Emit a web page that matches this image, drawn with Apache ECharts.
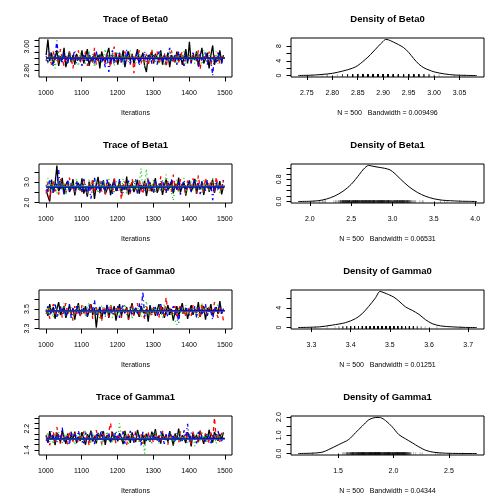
<!DOCTYPE html>
<html><head><meta charset="utf-8">
<script src="https://cdn.jsdelivr.net/npm/echarts@6/dist/echarts.min.js"></script>
<style>html,body{margin:0;padding:0;background:#fff}#c{width:504px;height:504px}</style>
</head><body><div id="c"></div>
<script>
// ---------- DATA ----------
const parameterNames = ['Beta0', 'Beta1', 'Gamma0', 'Gamma1'];
const bandwidths = ['0.009496', '0.06531', '0.01251', '0.04344'];
const sampleSize = 500;

// iterations sampled every 5 steps (1001..1496)
const iterations = [];
for (let i = 0; i < 100; i++) iterations.push(1001 + 5 * i);
const smoothIterations = [1001, 1250, 1500];

// trace values, chains 1..4 (black, red, green, blue)
const traceBeta0 = [
[2.93,3.06,2.88,2.95,2.86,2.91,2.97,2.84,2.92,2.89,2.99,2.83,2.90,2.96,2.87,2.93,2.85,2.94,2.90,2.88,
 2.97,2.86,2.92,2.98,2.84,2.91,2.87,2.95,2.89,2.93,2.82,2.96,2.90,2.87,2.94,2.99,2.86,2.92,2.88,2.95,
 2.85,2.93,2.89,2.97,2.83,2.91,2.96,2.88,2.94,2.86,2.92,2.98,2.87,2.90,2.95,2.84,2.79,2.93,2.89,2.96,
 2.86,2.94,2.91,2.88,2.97,2.85,2.92,2.89,2.95,2.83,2.93,2.90,2.87,2.96,2.88,2.94,2.85,2.91,2.98,2.86,
 3.04,2.87,2.93,2.89,2.96,2.84,2.92,2.99,2.86,2.90,2.95,2.82,2.93,3.01,2.85,2.91,2.88,2.97,2.87,2.93],
[2.88,2.94,2.91,2.85,2.96,2.89,2.92,2.86,2.98,2.90,2.84,2.93,2.87,2.95,2.91,2.82,2.94,2.88,2.97,2.86,
 2.92,2.89,2.96,2.84,2.93,2.90,2.87,2.99,2.85,2.91,2.94,2.88,2.92,2.86,2.95,2.89,2.83,2.93,3.00,2.87,
 2.91,2.94,2.86,2.90,2.96,2.88,2.92,2.85,2.95,2.78,2.93,2.89,2.97,2.86,2.91,2.88,2.94,2.84,2.92,2.98,
 2.87,2.93,2.96,2.85,2.91,2.89,2.95,2.83,2.92,2.88,2.97,2.86,2.90,2.94,2.87,2.92,2.96,2.84,2.91,2.89,
 2.93,2.86,2.95,2.90,2.88,2.97,2.81,2.92,2.89,2.94,2.87,2.96,2.85,2.91,2.93,2.88,2.95,2.86,2.92,2.90],
[2.90,2.86,2.95,2.88,2.93,2.82,2.91,2.97,2.87,2.94,2.89,2.92,2.85,2.96,2.90,2.87,2.93,2.91,2.84,2.95,
 2.89,2.93,2.86,2.91,2.97,2.88,2.94,2.83,2.92,2.90,2.95,2.87,2.91,2.98,2.86,2.93,2.89,2.95,2.84,2.92,
 2.96,2.88,2.91,2.85,2.94,2.90,2.87,2.97,2.89,2.93,2.86,2.92,2.95,2.88,2.91,2.84,2.94,2.90,2.87,2.96,
 2.91,2.88,2.93,2.86,2.95,2.90,2.84,2.92,2.89,2.97,2.87,2.93,2.91,2.85,2.94,2.88,2.92,2.96,2.86,2.90,
 2.94,2.88,2.91,2.86,2.95,2.89,2.93,2.85,2.97,2.90,2.87,2.92,2.94,2.88,2.91,2.96,2.86,2.93,2.89,2.91],
[2.92,2.87,2.95,2.89,2.84,2.93,3.05,2.88,2.91,2.86,2.96,2.90,2.85,2.94,2.88,2.92,2.97,2.86,2.91,2.89,
 2.84,2.93,2.90,2.87,2.95,2.88,2.92,2.85,2.96,2.89,2.93,2.87,2.91,2.83,2.94,2.79,2.90,2.97,2.86,2.92,
 2.89,2.95,2.87,2.92,2.85,2.98,2.90,2.86,2.93,2.88,2.91,2.95,2.84,2.92,2.89,2.96,2.87,2.90,2.94,2.86,
 2.93,2.89,2.85,2.96,2.91,2.88,2.94,2.86,2.92,2.99,2.87,2.90,2.93,2.85,2.96,2.89,2.91,2.84,2.94,2.88,
 2.92,2.86,2.95,2.89,2.91,2.83,2.94,2.88,2.90,2.96,2.85,2.92,2.89,2.76,2.93,2.87,2.95,2.90,2.86,2.91]
];
const traceBeta1 = [
[2.62,2.31,2.05,3.12,2.48,2.93,3.81,2.55,2.78,3.21,2.40,2.87,3.05,2.52,2.69,3.14,2.35,2.81,2.96,2.58,
 3.18,2.44,2.73,2.29,3.02,2.66,2.91,2.18,2.85,3.25,2.53,2.77,3.09,2.41,2.64,2.98,2.36,2.83,3.15,2.57,
 2.71,3.03,2.46,2.88,2.62,3.27,2.39,2.80,2.95,2.51,2.74,3.11,2.43,2.86,2.67,3.06,2.32,2.79,2.99,2.55,
 2.84,3.19,2.48,2.72,2.94,2.38,2.81,3.13,2.59,2.76,3.04,2.45,2.89,2.63,3.22,2.50,2.77,2.97,2.34,2.85,
 3.08,2.56,2.73,3.16,2.42,2.90,2.65,3.01,2.37,2.82,2.99,2.53,2.75,3.12,2.47,2.86,2.69,3.05,2.40,2.78],
[2.45,2.98,2.16,2.71,3.08,2.55,2.83,2.39,3.15,2.67,2.92,2.48,2.76,3.22,2.58,2.87,2.42,3.03,2.69,2.81,
 2.51,3.11,2.74,2.37,2.95,2.63,3.19,2.46,2.85,2.70,3.06,2.54,2.79,2.41,3.13,2.66,2.90,2.49,3.24,2.72,
 2.57,2.93,2.15,2.78,3.05,2.60,2.88,2.44,3.17,2.68,2.82,2.52,3.10,2.73,2.40,2.96,2.64,3.20,2.56,2.85,
 2.47,3.02,2.75,2.59,3.28,2.65,2.89,2.43,3.09,2.77,2.53,3.36,2.70,2.92,2.48,3.14,2.62,2.84,2.39,3.07,
 2.74,2.58,3.18,2.86,2.44,3.33,2.67,2.95,2.51,3.21,2.79,2.60,3.12,2.88,2.46,3.26,2.71,2.97,2.55,3.10],
[2.78,3.19,2.52,2.94,2.66,3.08,2.43,2.85,3.13,2.59,2.90,2.37,2.81,3.04,2.62,2.96,2.48,3.17,2.73,2.55,
 3.01,2.68,2.89,2.41,3.12,2.75,2.57,3.23,2.83,2.46,2.97,2.64,3.09,2.50,2.87,3.15,2.61,2.79,2.44,3.06,
 2.69,2.91,2.53,3.18,2.76,2.40,3.00,2.86,2.58,3.11,2.72,2.47,2.93,3.66,2.63,2.84,3.63,2.55,2.98,2.70,
 3.14,2.49,2.88,2.65,3.05,2.56,2.80,3.37,2.61,2.92,2.45,2.11,2.77,3.10,2.54,2.95,2.68,3.20,2.42,2.86,
 2.73,3.03,2.57,2.90,3.16,2.64,2.82,2.49,3.08,2.71,2.95,2.53,2.87,3.19,2.60,2.78,3.02,2.46,2.93,2.67],
[2.87,2.52,3.14,2.69,2.43,3.02,2.76,3.58,2.60,2.91,2.35,2.82,3.10,2.55,2.97,2.71,2.46,3.06,2.64,2.89,
 2.50,3.15,2.77,2.38,2.93,2.19,2.84,3.21,2.62,2.96,2.45,3.08,2.73,2.56,3.12,2.67,2.90,2.42,3.03,2.75,
 2.58,3.16,2.81,2.47,2.99,2.63,3.07,2.52,2.86,2.70,3.13,2.40,2.94,2.66,3.01,2.54,2.83,3.18,2.61,2.78,
 2.44,3.05,2.72,2.92,2.57,3.11,2.68,2.48,2.98,2.80,3.14,2.53,2.87,2.65,3.04,2.39,2.85,3.09,2.59,2.76,
 3.00,2.51,2.88,3.17,2.63,2.94,2.41,3.06,2.74,2.58,3.10,2.69,2.95,2.12,2.83,3.03,2.56,2.90,2.67,3.08]
];
const traceGamma0 = [
[3.49,3.43,3.55,3.46,3.52,3.40,3.50,3.57,3.44,3.48,3.53,3.41,3.47,3.54,3.45,3.51,3.39,3.49,3.56,3.43,
 3.50,3.46,3.53,3.42,3.48,3.55,3.44,3.51,3.31,3.47,3.52,3.40,3.49,3.45,3.54,3.41,3.50,3.47,3.53,3.38,
 3.48,3.55,3.43,3.50,3.46,3.52,3.39,3.49,3.56,3.44,3.51,3.47,3.42,3.53,3.48,3.45,3.50,3.37,3.54,3.46,
 3.51,3.43,3.49,3.55,3.45,3.52,3.41,3.48,3.54,3.44,3.50,3.38,3.47,3.53,3.43,3.49,3.56,3.45,3.51,3.40,
 3.48,3.54,3.44,3.50,3.46,3.57,3.42,3.49,3.53,3.39,3.51,3.47,3.55,3.43,3.48,3.52,3.45,3.58,3.46,3.50],
[3.45,3.52,3.40,3.48,3.55,3.43,3.50,3.46,3.53,3.41,3.49,3.56,3.44,3.51,3.47,3.38,3.53,3.45,3.50,3.42,
 3.54,3.47,3.43,3.51,3.46,3.55,3.40,3.49,3.52,3.44,3.48,3.37,3.53,3.46,3.50,3.42,3.55,3.47,3.44,3.51,
 3.46,3.53,3.41,3.49,3.45,3.52,3.39,3.50,3.54,3.43,3.48,3.56,3.42,3.51,3.46,3.40,3.53,3.47,3.49,3.44,
 3.52,3.45,3.50,3.41,3.55,3.47,3.43,3.62,3.46,3.51,3.44,3.49,3.53,3.40,3.48,3.55,3.45,3.50,3.42,3.52,
 3.47,3.43,3.54,3.49,3.45,3.51,3.40,3.56,3.46,3.50,3.43,3.53,3.48,3.44,3.57,3.47,3.41,3.52,3.49,3.38],
[3.50,3.44,3.53,3.47,3.41,3.55,3.48,3.43,3.51,3.46,3.56,3.42,3.49,3.45,3.52,3.40,3.50,3.47,3.54,3.44,
 3.48,3.53,3.42,3.50,3.57,3.45,3.49,3.43,3.52,3.46,3.39,3.54,3.48,3.44,3.51,3.47,3.55,3.41,3.49,3.46,
 3.52,3.43,3.50,3.47,3.55,3.44,3.48,3.53,3.40,3.51,3.46,3.49,3.54,3.42,3.50,3.45,3.58,3.47,3.43,3.52,
 3.46,3.50,3.44,3.53,3.48,3.41,3.55,3.47,3.45,3.51,3.43,3.49,3.38,3.34,3.52,3.46,3.50,3.44,3.54,3.47,
 3.43,3.51,3.48,3.45,3.53,3.40,3.49,3.56,3.46,3.50,3.44,3.52,3.47,3.42,3.51,3.48,3.55,3.45,3.49,3.46],
[3.47,3.53,3.44,3.50,3.46,3.56,3.42,3.49,3.52,3.45,3.51,3.43,3.48,3.55,3.41,3.50,3.47,3.53,3.44,3.49,
 3.45,3.51,3.48,3.43,3.54,3.46,3.50,3.59,3.44,3.49,3.52,3.45,3.48,3.42,3.55,3.47,3.51,3.44,3.50,3.46,
 3.53,3.41,3.49,3.55,3.45,3.50,3.47,3.52,3.43,3.48,3.51,3.44,3.56,3.46,3.68,3.42,3.50,3.47,3.53,3.45,
 3.49,3.52,3.43,3.48,3.55,3.45,3.51,3.47,3.42,3.50,3.46,3.53,3.44,3.49,3.36,3.52,3.47,3.45,3.51,3.48,
 3.44,3.50,3.46,3.53,3.41,3.49,3.52,3.45,3.48,3.55,3.43,3.50,3.47,3.39,3.52,3.46,3.49,3.54,3.45,3.51]
];
const traceGamma1 = [
[1.92,1.68,2.11,1.79,1.97,1.58,2.05,1.84,1.71,2.14,1.88,1.63,2.02,1.76,1.95,1.82,2.09,1.66,1.90,1.74,
 2.07,1.81,1.60,1.99,1.86,2.13,1.72,1.93,1.65,2.04,1.83,1.77,2.10,1.59,1.96,1.85,1.69,2.08,1.80,1.91,
 1.73,2.03,1.87,1.62,2.12,1.78,1.94,1.67,2.06,1.84,1.70,2.15,1.89,1.75,1.98,1.61,2.01,1.83,1.72,2.09,
 1.86,2.18,1.76,1.93,1.64,2.05,1.81,1.97,1.69,2.11,1.88,1.57,2.02,1.79,2.20,1.73,1.95,1.84,1.66,2.07,
 1.90,1.54,2.04,1.82,1.96,1.71,2.13,1.87,1.63,2.00,1.78,2.16,1.85,1.68,2.08,1.92,1.75,1.99,1.80,2.06],
[1.75,1.99,1.58,1.87,2.08,1.70,2.26,1.83,1.64,2.01,1.78,1.95,1.61,2.12,1.85,1.72,2.04,1.90,1.67,1.98,
 1.81,2.10,1.73,1.94,1.56,2.06,1.86,1.69,2.15,1.80,1.97,1.62,2.03,1.88,1.74,2.09,2.42,1.77,1.91,1.65,
 2.02,1.84,1.71,2.11,1.89,1.59,2.05,1.79,1.96,1.68,2.14,1.82,1.74,2.00,1.63,1.93,1.86,2.08,1.72,1.90,
 1.66,2.03,1.83,1.95,1.70,2.12,1.78,1.92,1.60,2.07,1.85,1.76,2.01,1.88,1.67,2.10,1.81,1.98,1.73,2.05,
 1.84,1.62,2.09,1.79,1.94,1.69,2.13,1.87,1.75,2.02,1.91,1.64,2.06,1.80,2.62,1.77,1.97,1.71,2.04,1.88],
[1.84,2.06,1.70,1.93,1.62,2.00,1.78,2.09,1.87,1.66,2.03,1.80,1.95,1.73,2.11,1.85,1.60,1.97,1.76,2.05,
 1.69,1.91,2.14,1.79,1.98,1.64,2.07,1.83,1.72,2.02,1.88,1.58,1.96,1.81,2.10,1.74,1.94,1.67,2.04,1.86,
 1.77,2.40,1.89,1.71,2.06,1.84,1.63,2.01,1.80,1.92,1.75,2.08,1.68,1.95,1.82,1.27,2.03,1.87,1.73,1.99,
 1.79,2.12,1.86,1.65,2.04,1.90,1.76,1.97,1.70,2.09,1.83,1.61,1.96,1.85,2.07,1.72,1.93,1.81,2.00,1.68,
 2.05,1.78,1.92,1.55,2.01,1.86,1.74,2.10,1.83,1.96,1.69,2.03,1.88,1.77,1.94,1.64,2.08,1.82,1.99,1.75],
[1.97,1.63,1.88,2.10,1.76,1.93,1.68,2.02,1.81,2.24,1.72,1.95,1.86,1.59,2.07,1.79,1.98,1.70,2.13,1.84,
 1.91,1.66,2.05,1.83,1.74,2.09,1.87,1.62,2.00,1.78,1.94,2.15,1.71,1.89,1.80,2.04,1.67,1.96,1.85,2.11,
 1.73,1.99,1.82,2.06,1.64,1.92,1.77,2.12,1.86,1.69,2.03,1.80,1.95,1.58,2.08,1.84,1.75,2.01,1.89,1.66,
 2.04,1.82,1.94,1.71,2.10,1.87,1.63,1.99,1.78,2.06,1.85,1.93,1.68,2.02,1.80,1.97,1.74,2.14,1.88,2.38,
 1.70,2.05,1.83,1.92,1.65,2.08,1.79,1.96,1.86,1.72,2.03,1.90,1.61,2.00,1.84,1.77,2.11,1.87,1.73,1.95]
];

// lowess smooth lines per chain, at smoothIterations
const smoothBeta0 = [[2.908,2.906,2.907],[2.903,2.905,2.904],[2.906,2.905,2.903],[2.904,2.903,2.905]];
const smoothBeta1 = [[2.76,2.77,2.78],[2.78,2.79,2.80],[2.79,2.78,2.79],[2.75,2.76,2.77]];
const smoothGamma0 = [[3.484,3.482,3.485],[3.481,3.483,3.480],[3.483,3.481,3.482],[3.480,3.482,3.483]];
const smoothGamma1 = [[1.83,1.82,1.84],[1.82,1.83,1.83],[1.81,1.82,1.82],[1.82,1.81,1.83]];

// density curves
const densBeta0X = [2.733,2.76,2.78,2.80,2.82,2.84,2.85,2.86,2.87,2.88,2.89,2.90,2.905,2.91,2.92,2.93,2.94,2.95,2.96,2.97,2.98,2.99,3.00,3.02,3.04,3.06,3.084];
const densBeta0Y = [0.02,0.1,0.3,0.6,1.2,2.0,2.7,3.8,5.0,6.4,7.9,9.3,9.8,9.7,9.1,8.4,7.6,6.3,4.6,3.1,2.1,1.5,1.0,0.45,0.15,0.05,0.01];
const densBeta1X = [1.858,2.0,2.1,2.2,2.3,2.4,2.5,2.6,2.65,2.71,2.75,2.8,2.9,2.97,3.03,3.1,3.2,3.3,3.4,3.5,3.6,3.7,3.8,3.9,4.02];
const densBeta1Y = [0.003,0.01,0.03,0.09,0.2,0.37,0.62,0.98,1.17,1.30,1.28,1.25,1.20,1.14,1.0,0.80,0.53,0.33,0.19,0.10,0.05,0.03,0.015,0.008,0.003];
const densGamma0X = [3.266,3.32,3.353,3.387,3.412,3.429,3.446,3.463,3.475,3.485,3.497,3.51,3.523,3.54,3.557,3.574,3.591,3.608,3.629,3.659,3.693,3.722];
const densGamma0Y = [0.01,0.14,0.5,1.0,1.8,2.8,4.3,6.0,7.35,7.1,6.7,6.2,5.4,4.2,3.5,2.7,1.6,0.8,0.34,0.14,0.03,0.005];
const densGamma1X = [1.14,1.265,1.355,1.416,1.506,1.596,1.657,1.717,1.777,1.822,1.86,1.883,1.928,1.988,2.048,2.108,2.169,2.229,2.289,2.364,2.47,2.59,2.752];
const densGamma1Y = [0.002,0.02,0.07,0.22,0.49,0.77,1.14,1.50,1.85,1.96,1.98,1.97,1.81,1.47,1.04,0.81,0.59,0.37,0.18,0.07,0.02,0.005,0.001];

// tick marks and labelled ticks
const traceYTicks = [[2.80,2.85,2.90,2.95,3.00,3.05],[2.0,2.5,3.0,3.5],[3.3,3.4,3.5,3.6],[1.4,1.6,1.8,2.0,2.2,2.4,2.6]];
const traceYLabels = [[2.80,3.00],[2.0,3.0],[3.3,3.5],[1.4,2.2]];
const traceYDecimals = [2,1,1,1];
const iterTicks = [1000,1100,1200,1300,1400,1500];
const densXTicks = [[2.75,2.80,2.85,2.90,2.95,3.00,3.05],[2.0,2.5,3.0,3.5,4.0],[3.3,3.4,3.5,3.6,3.7],[1.5,2.0,2.5]];
const densXDecimals = [2,1,1,1];
const densYTicks = [[0,2,4,6,8],[0,0.2,0.4,0.6,0.8,1.0,1.2],[0,2,4,6],[0,0.5,1.0,1.5,2.0]];
const densYLabels = [[0,4,8],[0,0.8],[0,4],[0,1.0,2.0]];
const densYDecimals = [0,1,0,1];

// ---------- CHART ----------
const FONT = '"Liberation Sans", Arial, Helvetica, sans-serif';
const chainColors = ['#000000', '#FF0000', '#00CD00', '#0000FF'];
const chainDash = ['solid', [4, 4], [1, 3], [1, 3, 4, 3]];
const rowTops = [38, 164, 290, 416];
const colLefts = [39, 291];
const BOX_W = 193, BOX_H = 39;
const FS = 7;

const traces = [traceBeta0, traceBeta1, traceGamma0, traceGamma1];
const smooths = [smoothBeta0, smoothBeta1, smoothGamma0, smoothGamma1];
const densX = [densBeta0X, densBeta1X, densGamma0X, densGamma1X];
const densY = [densBeta0Y, densBeta1Y, densGamma0Y, densGamma1Y];

function extRange(lo, hi) { const r = hi - lo; return [lo - 0.04 * r, hi + 0.04 * r]; }
function fmt(d) { return v => Number(v).toFixed(d); }

const grids = [], xAxes = [], yAxes = [], series = [], titles = [];

function axisBase(ticks, labels, d, rotate, margin) {
  return {
    axisLine: { show: false },
    splitLine: { show: false },
    axisTick: { show: true, customValues: ticks, length: 4.5, lineStyle: { color: '#000', width: 1 } },
    axisLabel: { customValues: labels, formatter: fmt(d), fontSize: FS, fontFamily: FONT, color: '#000', margin: margin, rotate: rotate }
  };
}

parameterNames.forEach((name, r) => {
  const top = rowTops[r];
  // ----- trace panel -----
  const gT = grids.length;
  grids.push({ left: colLefts[0], top: top, width: BOX_W, height: BOX_H, show: true, borderColor: '#000', borderWidth: 1, backgroundColor: 'transparent' });
  const xr = extRange(1001, 1500);
  xAxes.push(Object.assign({ gridIndex: gT, type: 'value', min: xr[0], max: xr[1],
    name: 'Iterations', nameLocation: 'middle', nameGap: 33,
    nameTextStyle: { fontSize: FS, fontFamily: FONT, color: '#000' } },
    axisBase(iterTicks, iterTicks, 0, 0, 12.5)));
  const allVals = traces[r].flat();
  const yr = extRange(Math.min(...allVals), Math.max(...allVals));
  yAxes.push(Object.assign({ gridIndex: gT, type: 'value', min: yr[0], max: yr[1] },
    axisBase(traceYTicks[r], traceYLabels[r], traceYDecimals[r], 90, 8)));
  traces[r].forEach((vals, k) => {
    series.push({ type: 'line', xAxisIndex: gT, yAxisIndex: gT, data: vals.map((v, i) => [iterations[i], v]),
      symbol: 'none', silent: true, lineStyle: { color: chainColors[k], width: 1.3, type: chainDash[k] } });
  });
  smooths[r].forEach((vals, k) => {
    series.push({ type: 'line', xAxisIndex: gT, yAxisIndex: gT, data: vals.map((v, i) => [smoothIterations[i], v]),
      symbol: 'none', silent: true, smooth: true, lineStyle: { color: chainColors[k], width: 1.2 } });
  });
  titles.push({ text: 'Trace of ' + name, left: colLefts[0] + BOX_W / 2, top: top - 24, textAlign: 'center', padding: 0,
    textStyle: { fontSize: 9.5, fontWeight: 'bold', fontFamily: FONT, color: '#000' } });

  // ----- density panel -----
  const gD = grids.length;
  grids.push({ left: colLefts[1], top: top, width: BOX_W, height: BOX_H, show: true, borderColor: '#000', borderWidth: 1, backgroundColor: 'transparent' });
  const dx = densX[r], dy = densY[r];
  const dxr = extRange(dx[0], dx[dx.length - 1]);
  const dyr = extRange(0, Math.max(...dy));
  xAxes.push(Object.assign({ gridIndex: gD, type: 'value', min: dxr[0], max: dxr[1],
    name: 'N = ' + sampleSize + '   Bandwidth = ' + bandwidths[r], nameLocation: 'middle', nameGap: 33,
    nameTextStyle: { fontSize: FS, fontFamily: FONT, color: '#000' } },
    axisBase(densXTicks[r], densXTicks[r], densXDecimals[r], 0, 12.5)));
  yAxes.push(Object.assign({ gridIndex: gD, type: 'value', min: dyr[0], max: dyr[1] },
    axisBase(densYTicks[r], densYLabels[r], densYDecimals[r], 90, 8)));
  series.push({ type: 'scatter', xAxisIndex: gD, yAxisIndex: gD, data: allVals.map(v => [v, 0]),
    symbol: 'rect', symbolSize: [1, 2.5], silent: true, itemStyle: { color: '#000', opacity: 0.3 } });
  series.push({ type: 'line', xAxisIndex: gD, yAxisIndex: gD, data: dx.map((x, i) => [x, dy[i]]),
    symbol: 'none', silent: true, smooth: 0.3, lineStyle: { color: '#000', width: 1 } });
  titles.push({ text: 'Density of ' + name, left: colLefts[1] + BOX_W / 2, top: top - 24, textAlign: 'center', padding: 0,
    textStyle: { fontSize: 9.5, fontWeight: 'bold', fontFamily: FONT, color: '#000' } });
});

const chart = echarts.init(document.getElementById('c'), null, { renderer: 'canvas' });
chart.setOption({
  animation: false,
  backgroundColor: '#ffffff',
  title: titles,
  grid: grids,
  xAxis: xAxes,
  yAxis: yAxes,
  series: series
});
</script></body></html>
